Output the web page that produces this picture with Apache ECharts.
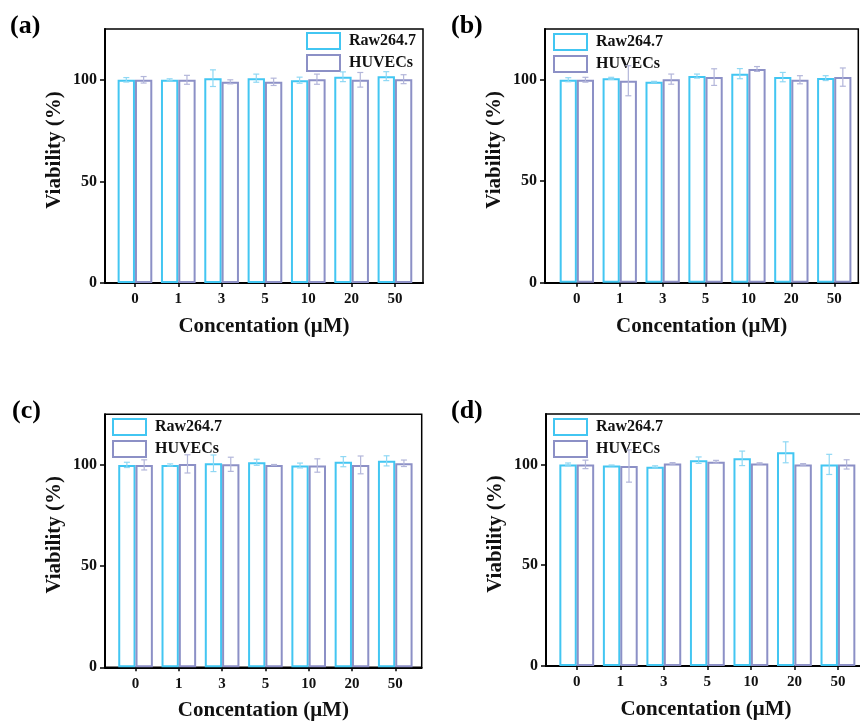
<!DOCTYPE html>
<html>
<head>
<meta charset="utf-8">
<script src="https://cdn.jsdelivr.net/npm/echarts@6/dist/echarts.min.js"></script>
<style>html,body{margin:0;padding:0;background:#fff}#c{width:860px;height:724px}</style>
</head>
<body>
<div id="c"></div>
<script>
const categories = ['0', '1', '3', '5', '10', '20', '50'];
const seriesNames = ['Raw264.7', 'HUVECs'];
const yTicks = [0, 50, 100];

const rawA = [100, 100, 100.8, 100.8, 99.8, 101.5, 101.8];
const huvA = [100, 100, 99.0, 99.0, 100.3, 100, 100.3];
const rawErrA = [1.1, 0.5, 4.1, 2.0, 1.5, 2.4, 2.2];
const huvErrA = [1.6, 2.2, 1.0, 1.8, 2.5, 3.6, 2.2];

const rawB = [100, 100.7, 99.0, 101.8, 103.0, 101.3, 100.8];
const huvB = [100, 99.5, 100.3, 101.3, 105.3, 100.0, 101.3];
const rawErrB = [1.0, 0.5, 0.2, 1.0, 2.5, 2.3, 1.2];
const huvErrB = [1.2, 7.4, 2.5, 4.1, 1.2, 2.0, 4.5];

const rawC = [100, 100, 100.8, 101.3, 99.7, 101.6, 102.0];
const huvC = [100, 100.5, 100.3, 100, 99.7, 100, 100.8];
const rawErrC = [1.3, 0.5, 4.1, 1.5, 1.2, 2.5, 2.5];
const huvErrC = [2.5, 4.5, 3.5, 0.2, 3.3, 4.4, 1.6];

const rawD = [100, 99.5, 98.8, 102.1, 103.0, 106.0, 100];
const huvD = [100, 99.2, 100.5, 101.3, 100.5, 100, 100];
const rawErrD = [0.7, 0.2, 0.5, 1.6, 3.6, 5.2, 5.0];
const huvErrD = [2.1, 8.0, 0.4, 0.7, 0.3, 0.4, 2.3];

const FONT = "'Liberation Serif','Times New Roman',serif";
const CYAN = '#42c6f2';
const PURPLE = '#8c90c6';
const CYAN_ERR = '#8fd8f4';
const PURPLE_ERR = '#b3b6da';
const BAR_FRAC = 0.4;

const panels = [
  {label: '(a)', lx: 10, ly: 13, frame: {left: 105, top: 29, width: 318, height: 254}, data: {left: 113.3, width: 303.3},
   legend: {left: 306, top: 32}, raw: rawA, huv: huvA, rawErr: rawErrA, huvErr: huvErrA},
  {label: '(b)', lx: 451, ly: 13, frame: {left: 545, top: 29, width: 313.3, height: 253.7}, data: {left: 555.4, width: 300.3},
   legend: {left: 553, top: 33}, raw: rawB, huv: huvB, rawErr: rawErrB, huvErr: huvErrB},
  {label: '(c)', lx: 12, ly: 398, frame: {left: 105, top: 414.3, width: 316.7, height: 253}, data: {left: 113.9, width: 303},
   legend: {left: 112, top: 418}, raw: rawC, huv: huvC, rawErr: rawErrC, huvErr: huvErrC},
  {label: '(d)', lx: 451, ly: 398, frame: {left: 546, top: 414, width: 320, height: 252}, data: {left: 555, width: 304.7},
   legend: {left: 553, top: 418}, raw: rawD, huv: huvD, rawErr: rawErrD, huvErr: huvErrD}
];

const grid = [], xAxis = [], yAxis = [], series = [], legend = [], title = [];

function errRender(side, color) {
  return function (params, api) {
    const idx = api.value(0), val = api.value(1), err = api.value(2);
    const c = api.coord([idx, val]);
    const band = api.size([1, 0])[0];
    const x = c[0] + side * band * BAR_FRAC / 2;
    const yt = api.coord([idx, val + err])[1];
    const yb = api.coord([idx, val - err])[1];
    const cap = 3;
    const st = {stroke: color, lineWidth: 1.2};
    return {
      type: 'group',
      children: [
        {type: 'line', shape: {x1: x, y1: yt, x2: x, y2: yb}, style: st},
        {type: 'line', shape: {x1: x - cap, y1: yt, x2: x + cap, y2: yt}, style: st},
        {type: 'line', shape: {x1: x - cap, y1: yb, x2: x + cap, y2: yb}, style: st}
      ]
    };
  };
}

panels.forEach((p, i) => {
  const gF = i * 2, gD = i * 2 + 1;
  grid.push({left: p.frame.left, top: p.frame.top, width: p.frame.width, height: p.frame.height,
    show: true, borderColor: '#000', borderWidth: 1.5, backgroundColor: 'transparent',
    containLabel: false, outerBoundsMode: 'none'});
  grid.push({left: p.data.left, top: p.frame.top, width: p.data.width, height: p.frame.height,
    containLabel: false, outerBoundsMode: 'none'});

  xAxis.push({type: 'value', gridIndex: gF, min: 0, max: 1, position: 'bottom',
    axisLine: {show: true, onZero: false, lineStyle: {color: '#000', width: 2}},
    axisTick: {show: false}, axisLabel: {show: false}, splitLine: {show: false},
    name: 'Concentation (μM)', nameLocation: 'middle', nameGap: 33,
    nameTextStyle: {fontFamily: FONT, fontWeight: 'bold', fontSize: 21, color: '#111'}});
  yAxis.push({type: 'value', gridIndex: gF, min: 0, max: 125, interval: 50,
    axisLine: {show: true, onZero: false, lineStyle: {color: '#000', width: 2}},
    axisTick: {show: true, inside: false, length: 5, customValues: yTicks, lineStyle: {color: '#000', width: 1.5}},
    axisLabel: {show: true, customValues: yTicks, margin: 8, fontFamily: FONT, fontWeight: 'bold', fontSize: 16, color: '#111'},
    splitLine: {show: false},
    name: 'Viability (%)', nameLocation: 'middle', nameGap: 40, nameRotate: 90,
    nameTextStyle: {fontFamily: FONT, fontWeight: 'bold', fontSize: 21, color: '#111', padding: [0, 0, 0, 12]}});

  const xi = xAxis.length;
  xAxis.push({type: 'category', gridIndex: gD, data: categories, boundaryGap: true, position: 'bottom',
    axisLine: {show: false}, axisTick: {show: true, alignWithLabel: true, length: 4, lineStyle: {color: '#000', width: 1.5}},
    axisLabel: {margin: 9, fontFamily: FONT, fontWeight: 'bold', fontSize: 15, color: '#111'},
    splitLine: {show: false}});
  const yi = yAxis.length;
  yAxis.push({type: 'value', gridIndex: gD, min: 0, max: 125, interval: 50, show: false, splitLine: {show: false}});

  const mk = (vals, errs) => vals.map((v, k) => [k, v, errs[k]]);
  series.push({name: seriesNames[0], type: 'bar', xAxisIndex: xi, yAxisIndex: yi,
    barWidth: (BAR_FRAC * 100) + '%', barGap: '0%',
    itemStyle: {color: '#fff', borderColor: CYAN, borderWidth: 2}, data: p.raw});
  series.push({name: seriesNames[1], type: 'bar', xAxisIndex: xi, yAxisIndex: yi,
    barWidth: (BAR_FRAC * 100) + '%', barGap: '0%',
    itemStyle: {color: '#fff', borderColor: PURPLE, borderWidth: 2}, data: p.huv});
  series.push({name: 'err-raw-' + i, type: 'custom', xAxisIndex: xi, yAxisIndex: yi, z: 5,
    renderItem: errRender(-1, CYAN_ERR), encode: {x: 0, y: 1}, data: mk(p.raw, p.rawErr), silent: true});
  series.push({name: 'err-huv-' + i, type: 'custom', xAxisIndex: xi, yAxisIndex: yi, z: 5,
    renderItem: errRender(1, PURPLE_ERR), encode: {x: 0, y: 1}, data: mk(p.huv, p.huvErr), silent: true});

  legend.push({left: p.legend.left, top: p.legend.top, orient: 'vertical', padding: 0, itemGap: 4,
    itemWidth: 33, itemHeight: 16, selectedMode: false,
    textStyle: {fontFamily: FONT, fontWeight: 'bold', fontSize: 16, color: '#111', padding: [0, 0, 0, 4]},
    data: [
      {name: seriesNames[0], icon: 'rect', itemStyle: {color: '#fff', borderColor: CYAN, borderWidth: 2}},
      {name: seriesNames[1], icon: 'rect', itemStyle: {color: '#fff', borderColor: PURPLE, borderWidth: 2}}
    ]});

  title.push({text: p.label, left: p.lx, top: p.ly, padding: 0,
    textStyle: {fontFamily: FONT, fontWeight: 'bold', fontSize: 26, color: '#000'}});
});

const chart = echarts.init(document.getElementById('c'), null, {renderer: 'canvas'});
chart.setOption({
  animation: false,
  backgroundColor: '#fff',
  title, legend, grid, xAxis, yAxis, series
});
</script>
</body>
</html>
